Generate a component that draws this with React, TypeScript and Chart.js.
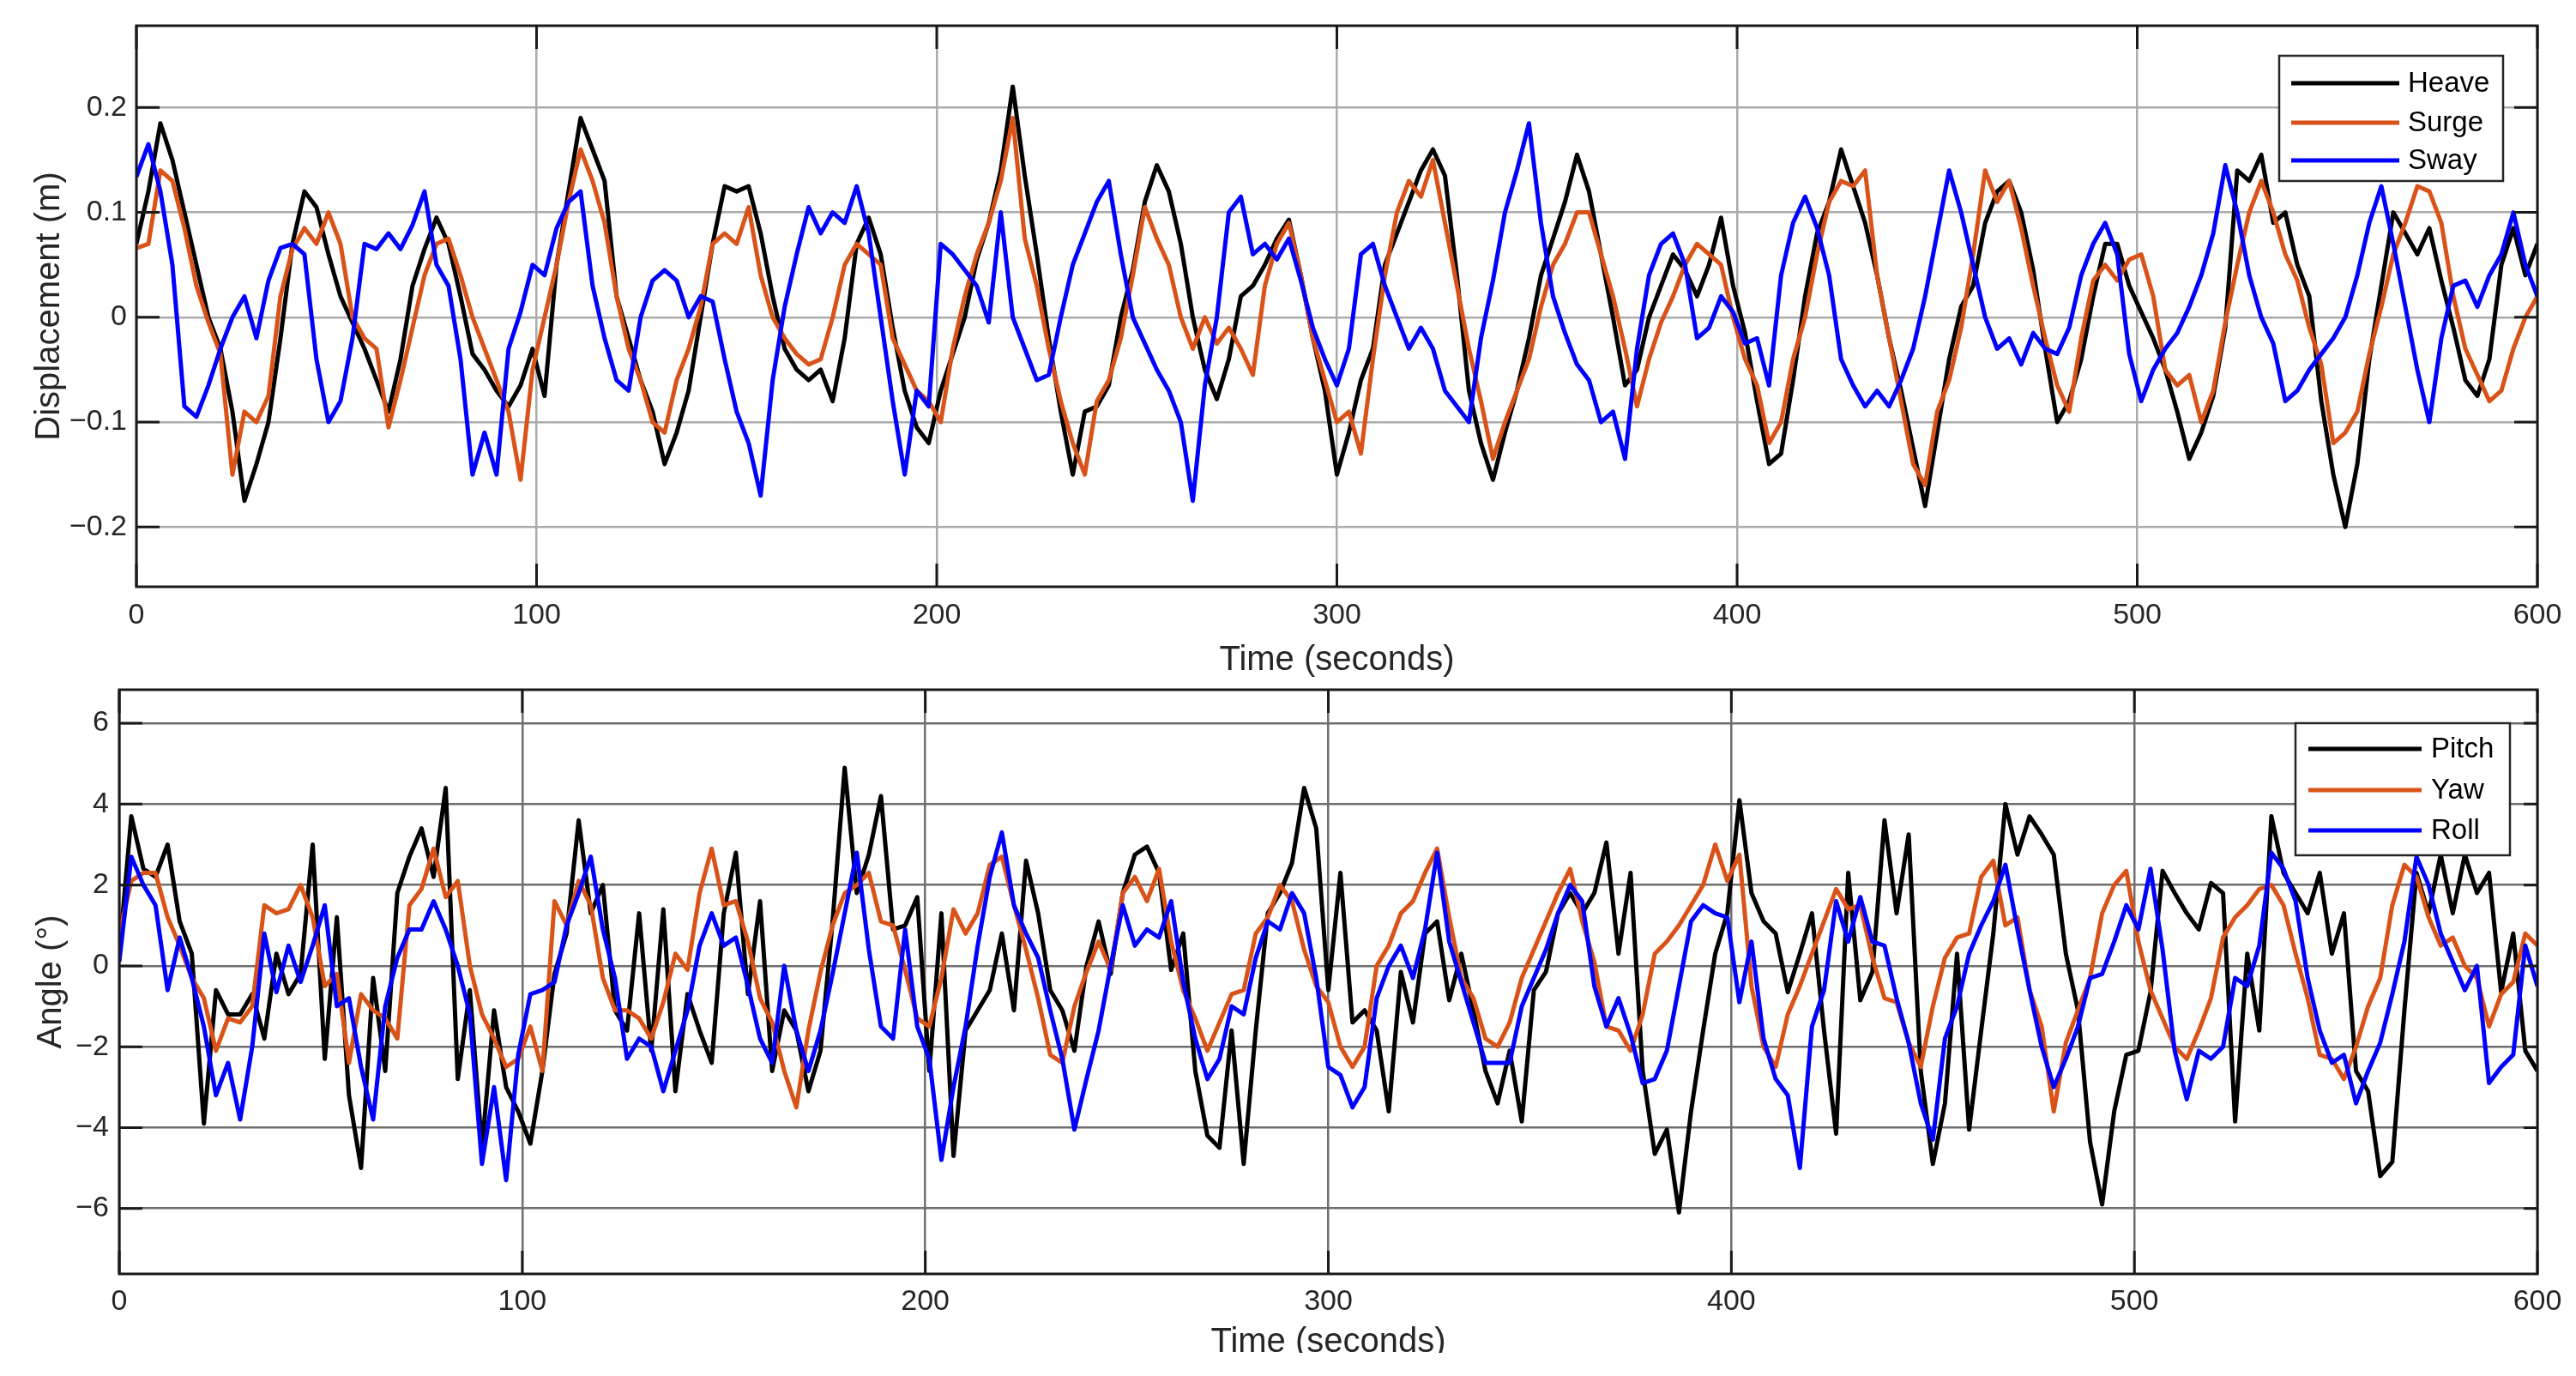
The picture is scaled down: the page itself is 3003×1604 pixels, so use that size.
import React, { useEffect, useRef } from "react";
import { Chart, registerables, ChartConfiguration, Plugin } from "chart.js";

Chart.register(...registerables);

// one reading every 3 s
const TIME_S = [
  0, 3, 6, 9, 12, 15, 18, 21, 24, 27,
  30, 33, 36, 39, 42, 45, 48, 51, 54, 57,
  60, 63, 66, 69, 72, 75, 78, 81, 84, 87,
  90, 93, 96, 99, 102, 105, 108, 111, 114, 117,
  120, 123, 126, 129, 132, 135, 138, 141, 144, 147,
  150, 153, 156, 159, 162, 165, 168, 171, 174, 177,
  180, 183, 186, 189, 192, 195, 198, 201, 204, 207,
  210, 213, 216, 219, 222, 225, 228, 231, 234, 237,
  240, 243, 246, 249, 252, 255, 258, 261, 264, 267,
  270, 273, 276, 279, 282, 285, 288, 291, 294, 297,
  300, 303, 306, 309, 312, 315, 318, 321, 324, 327,
  330, 333, 336, 339, 342, 345, 348, 351, 354, 357,
  360, 363, 366, 369, 372, 375, 378, 381, 384, 387,
  390, 393, 396, 399, 402, 405, 408, 411, 414, 417,
  420, 423, 426, 429, 432, 435, 438, 441, 444, 447,
  450, 453, 456, 459, 462, 465, 468, 471, 474, 477,
  480, 483, 486, 489, 492, 495, 498, 501, 504, 507,
  510, 513, 516, 519, 522, 525, 528, 531, 534, 537,
  540, 543, 546, 549, 552, 555, 558, 561, 564, 567,
  570, 573, 576, 579, 582, 585, 588, 591, 594, 597,
  600,
];

// displacement (m)
const HEAVE = [
  0.07, 0.12, 0.185, 0.15, 0.1, 0.05, 0.0, -0.03, -0.09, -0.175,
  -0.14, -0.1, -0.02, 0.07, 0.12, 0.105, 0.06, 0.02, -0.005, -0.03,
  -0.06, -0.09, -0.04, 0.03, 0.065, 0.095, 0.07, 0.02, -0.035, -0.05,
  -0.07, -0.085, -0.065, -0.03, -0.075, 0.05, 0.12, 0.19, 0.16, 0.13,
  0.02, -0.02, -0.06, -0.09, -0.14, -0.11, -0.07, 0.0, 0.07, 0.125,
  0.12, 0.125, 0.08, 0.02, -0.03, -0.05, -0.06, -0.05, -0.08, -0.02,
  0.07, 0.095, 0.06, -0.01, -0.07, -0.105, -0.12, -0.07, -0.035, 0.0,
  0.055, 0.09, 0.14, 0.22, 0.135, 0.06, -0.02, -0.09, -0.15, -0.09,
  -0.085, -0.065, 0.0, 0.045, 0.11, 0.145, 0.12, 0.07, 0.0, -0.05,
  -0.078, -0.04, 0.02, 0.03, 0.05, 0.075, 0.093, 0.04, -0.02, -0.07,
  -0.15, -0.11, -0.06, -0.03, 0.05, 0.08, 0.11, 0.14, 0.16, 0.135,
  0.04, -0.07, -0.12, -0.155, -0.11, -0.07, -0.02, 0.04, 0.075, 0.11,
  0.155, 0.12, 0.06, 0.0, -0.065, -0.05, 0.0, 0.03, 0.06, 0.045,
  0.02, 0.05, 0.095, 0.03, -0.015, -0.08, -0.14, -0.13, -0.06, 0.02,
  0.08, 0.11, 0.16, 0.125, 0.09, 0.04, -0.02, -0.07, -0.125, -0.18,
  -0.11, -0.04, 0.01, 0.03, 0.09, 0.12, 0.13, 0.1, 0.045, -0.03,
  -0.1, -0.08, -0.04, 0.02, 0.07, 0.07, 0.03, 0.005, -0.02, -0.05,
  -0.09, -0.135, -0.11, -0.075, -0.01, 0.14, 0.13, 0.155, 0.09, 0.1,
  0.05, 0.02, -0.08, -0.15, -0.2, -0.14, -0.04, 0.03, 0.1, 0.08,
  0.06, 0.085, 0.035, -0.01, -0.06, -0.075, -0.04, 0.05, 0.085, 0.04,
  0.07,
];

const SURGE = [
  0.066, 0.07, 0.14, 0.13, 0.085, 0.03, -0.005, -0.035, -0.15, -0.09,
  -0.1, -0.075, 0.02, 0.065, 0.085, 0.07, 0.1, 0.07, 0.0, -0.02,
  -0.03, -0.105, -0.06, -0.01, 0.04, 0.07, 0.075, 0.04, 0.0, -0.03,
  -0.06, -0.09, -0.155, -0.05, 0.0, 0.05, 0.11, 0.16, 0.13, 0.09,
  0.02, -0.03, -0.06, -0.1, -0.11, -0.06, -0.03, 0.01, 0.07, 0.08,
  0.07, 0.105, 0.04, 0.0, -0.02, -0.035, -0.045, -0.04, 0.0, 0.05,
  0.07, 0.06, 0.05, -0.02, -0.045, -0.07, -0.08, -0.1, -0.03, 0.02,
  0.06, 0.09, 0.13, 0.19, 0.075, 0.03, -0.03, -0.08, -0.12, -0.15,
  -0.08, -0.06, -0.02, 0.04, 0.105, 0.075, 0.05, 0.0, -0.03, 0.0,
  -0.025, -0.01, -0.03, -0.055, 0.03, 0.07, 0.09, 0.04, -0.02, -0.06,
  -0.1, -0.09, -0.13, -0.04, 0.04, 0.1, 0.13, 0.115, 0.15, 0.09,
  0.03, -0.03, -0.08, -0.135, -0.1, -0.07, -0.04, 0.01, 0.05, 0.07,
  0.1, 0.1, 0.06, 0.02, -0.03, -0.085, -0.04, -0.005, 0.02, 0.05,
  0.07, 0.06, 0.05, 0.0, -0.04, -0.065, -0.12, -0.1, -0.04, 0.0,
  0.06, 0.11, 0.13, 0.125, 0.14, 0.04, -0.02, -0.08, -0.14, -0.16,
  -0.09, -0.06, -0.01, 0.06, 0.14, 0.11, 0.13, 0.085, 0.03, -0.02,
  -0.065, -0.09, -0.02, 0.035, 0.05, 0.035, 0.055, 0.06, 0.02, -0.05,
  -0.065, -0.055, -0.1, -0.07, -0.005, 0.05, 0.1, 0.13, 0.1, 0.06,
  0.035, -0.01, -0.045, -0.12, -0.11, -0.09, -0.035, 0.01, 0.06, 0.09,
  0.125, 0.12, 0.09, 0.02, -0.03, -0.055, -0.08, -0.07, -0.03, 0.0,
  0.02,
];

const SWAY = [
  0.134, 0.165, 0.12, 0.05, -0.085, -0.095, -0.065, -0.03, 0.0, 0.02,
  -0.02, 0.035, 0.066, 0.07, 0.06, -0.04, -0.1, -0.08, -0.02, 0.07,
  0.065, 0.08, 0.065, 0.088, 0.12, 0.05, 0.03, -0.04, -0.15, -0.11,
  -0.15, -0.03, 0.005, 0.05, 0.04, 0.085, 0.11, 0.12, 0.03, -0.02,
  -0.06, -0.07, 0.0, 0.035, 0.045, 0.035, 0.0, 0.02, 0.015, -0.04,
  -0.09, -0.12, -0.17, -0.06, 0.01, 0.06, 0.105, 0.08, 0.1, 0.09,
  0.125, 0.08, 0.0, -0.08, -0.15, -0.07, -0.085, 0.07, 0.06, 0.045,
  0.03, -0.005, 0.1, 0.0, -0.03, -0.06, -0.055, 0.0, 0.05, 0.08,
  0.11, 0.13, 0.06, 0.0, -0.025, -0.05, -0.07, -0.1, -0.175, -0.065,
  0.0, 0.1, 0.115, 0.06, 0.07, 0.055, 0.075, 0.035, -0.01, -0.04,
  -0.065, -0.03, 0.06, 0.07, 0.03, 0.0, -0.03, -0.01, -0.03, -0.07,
  -0.085, -0.1, -0.02, 0.035, 0.1, 0.14, 0.185, 0.09, 0.02, -0.015,
  -0.045, -0.06, -0.1, -0.09, -0.135, -0.03, 0.04, 0.07, 0.08, 0.05,
  -0.02, -0.01, 0.02, 0.005, -0.025, -0.02, -0.065, 0.04, 0.09, 0.115,
  0.085, 0.04, -0.04, -0.065, -0.085, -0.07, -0.085, -0.06, -0.03, 0.02,
  0.08, 0.14, 0.1, 0.05, 0.0, -0.03, -0.02, -0.045, -0.015, -0.03,
  -0.035, -0.01, 0.04, 0.07, 0.09, 0.06, -0.035, -0.08, -0.05, -0.03,
  -0.015, 0.01, 0.04, 0.08, 0.145, 0.1, 0.04, 0.0, -0.025, -0.08,
  -0.07, -0.05, -0.035, -0.02, 0.0, 0.04, 0.09, 0.125, 0.07, 0.01,
  -0.05, -0.1, -0.02, 0.03, 0.035, 0.01, 0.04, 0.06, 0.1, 0.05,
  0.02,
];

// angle (degrees)
const PITCH = [
  0.3, 3.7, 2.4, 2.2, 3.0, 1.1, 0.3, -3.9, -0.6, -1.2,
  -1.2, -0.7, -1.8, 0.3, -0.7, -0.2, 3.0, -2.3, 1.2, -3.2,
  -5.0, -0.3, -2.6, 1.8, 2.7, 3.4, 2.2, 4.4, -2.8, -0.6,
  -4.5, -1.1, -3.0, -3.6, -4.4, -2.6, -0.2, 0.8, 3.6, 1.3,
  2.0, -1.1, -1.6, 1.3, -2.1, 1.4, -3.1, -0.7, -1.6, -2.4,
  1.3, 2.8, -0.7, 1.6, -2.6, -1.1, -1.6, -3.1, -2.1, 1.1,
  4.9, 1.8, 2.75, 4.2, 0.9, 1.0, 1.7, -2.6, 1.3, -4.7,
  -1.6, -1.1, -0.6, 0.8, -1.1, 2.6, 1.3, -0.6, -1.1, -2.1,
  0.0, 1.1, -0.2, 1.8, 2.75, 2.95, 2.3, -0.1, 0.8, -2.6,
  -4.2, -4.5, -1.6, -4.9, -1.6, 1.3, 1.8, 2.55, 4.4, 3.4,
  -0.6, 2.3, -1.4, -1.1, -1.6, -3.6, -0.15, -1.4, 0.8, 1.1,
  -0.85, 0.3, -1.1, -2.6, -3.4, -2.1, -3.85, -0.6, -0.15, 1.3,
  1.8, 1.3, 1.8, 3.05, 0.3, 2.3, -2.6, -4.65, -4.05, -6.1,
  -3.6, -1.6, 0.3, 1.3, 4.1, 1.8, 1.1, 0.8, -0.65, 0.3,
  1.3, -1.6, -4.15, 2.3, -0.85, -0.15, 3.6, 1.3, 3.25, -2.6,
  -4.9, -3.4, 0.3, -4.05, -1.6, 0.8, 4.0, 2.75, 3.7, 3.25,
  2.75, 0.3, -1.1, -4.35, -5.9, -3.6, -2.2, -2.1, -0.65, 2.35,
  1.8, 1.3, 0.9, 2.05, 1.8, -3.85, 0.3, -1.6, 3.7, 2.3,
  1.8, 1.3, 2.3, 0.3, 1.3, -2.6, -3.1, -5.2, -4.85, -1.1,
  2.3, 1.3, 2.75, 1.3, 2.75, 1.8, 2.3, -0.65, 0.8, -2.1,
  -2.6,
];

const YAW = [
  0.8, 2.1, 2.3, 2.3, 1.2, 0.5, -0.3, -0.8, -2.1, -1.3,
  -1.4, -1.0, 1.5, 1.3, 1.4, 2.0, 1.2, -0.5, -0.2, -2.4,
  -0.7, -1.1, -1.3, -1.8, 1.5, 1.9, 2.9, 1.7, 2.1, 0.0,
  -1.2, -1.8, -2.5, -2.3, -1.5, -2.6, 1.6, 1.0, 2.1, 1.5,
  -0.3, -1.1, -1.1, -1.3, -1.8, -0.9, 0.3, -0.1, 1.8, 2.9,
  1.5, 1.6, 0.6, -0.8, -1.4, -2.6, -3.5, -1.6, -0.15, 1.0,
  1.8, 2.0, 2.3, 1.1, 1.0, -0.1, -1.3, -1.5, -0.3, 1.4,
  0.8, 1.3, 2.5, 2.7, 1.5, 0.4, -0.8, -2.2, -2.4, -1.0,
  -0.15, 0.6, -0.1, 1.8, 2.2, 1.6, 2.4, 0.6, -0.6, -1.3,
  -2.1, -1.4, -0.7, -0.6, 0.8, 1.2, 2.0, 1.6, 0.4, -0.5,
  -0.9, -2.0, -2.5, -2.0, 0.0, 0.5, 1.3, 1.6, 2.3, 2.9,
  1.2, -0.3, -0.8, -1.8, -2.0, -1.4, -0.3, 0.4, 1.1, 1.8,
  2.4, 1.1, 0.1, -1.5, -1.6, -2.1, -1.2, 0.3, 0.6, 1.0,
  1.5, 2.0, 3.0, 2.1, 2.75, -0.5, -2.0, -2.5, -1.2, -0.5,
  0.3, 1.1, 1.9, 1.4, 1.5, 0.2, -0.8, -0.9, -1.9, -2.5,
  -1.0, 0.2, 0.7, 0.8, 2.2, 2.6, 1.0, 1.2, -0.6, -1.5,
  -3.6, -1.9, -1.1, -0.3, 1.3, 2.0, 2.35, 0.6, -0.6, -1.3,
  -2.0, -2.3, -1.6, -0.8, 0.7, 1.2, 1.5, 1.9, 2.0, 1.5,
  0.3, -0.8, -2.2, -2.3, -2.8, -2.0, -1.0, -0.3, 1.5, 2.5,
  2.2, 1.2, 0.5, 0.7, 0.0, -0.3, -1.5, -0.7, -0.4, 0.8,
  0.5,
];

const ROLL = [
  0.1, 2.7, 2.0, 1.5, -0.6, 0.7, -0.3, -1.5, -3.2, -2.4,
  -3.8, -2.0, 0.8, -0.65, 0.5, -0.4, 0.5, 1.5, -1.0, -0.8,
  -2.5, -3.8, -1.0, 0.2, 0.9, 0.9, 1.6, 0.9, 0.0, -1.2,
  -4.9, -3.0, -5.3, -2.2, -0.7, -0.6, -0.4, 1.0, 1.8, 2.7,
  0.9, -0.3, -2.3, -1.8, -2.0, -3.1, -2.1, -1.1, 0.5, 1.3,
  0.5, 0.7, -0.5, -1.8, -2.4, 0.0, -1.6, -2.6, -1.6, -0.2,
  1.3, 2.8, 0.4, -1.5, -1.8, 0.9, -1.5, -2.3, -4.8, -3.0,
  -1.5, 0.5, 2.2, 3.3, 1.5, 0.8, 0.2, -1.1, -2.3, -4.05,
  -2.8, -1.6, 0.0, 1.5, 0.5, 0.9, 0.7, 1.6, -0.4, -1.8,
  -2.8, -2.3, -1.0, -1.2, 0.2, 1.1, 0.9, 1.8, 1.3, -0.3,
  -2.5, -2.7, -3.5, -3.0, -0.8, 0.0, 0.5, -0.3, 0.9, 2.8,
  0.6, -0.4, -1.4, -2.4, -2.4, -2.4, -1.0, -0.3, 0.4, 1.3,
  2.0, 1.6, -0.5, -1.5, -0.8, -1.7, -2.9, -2.8, -2.1, -0.5,
  1.1, 1.5, 1.3, 1.2, -0.9, 0.6, -1.8, -2.8, -3.2, -5.0,
  -1.5, -0.6, 1.6, 0.6, 1.7, 0.6, 0.5, -0.8, -1.9, -3.4,
  -4.3, -1.8, -1.0, 0.3, 1.0, 1.6, 2.5, 0.9, -0.6, -2.0,
  -3.0, -2.3, -1.5, -0.3, -0.2, 0.6, 1.5, 0.9, 2.4, 0.4,
  -2.1, -3.3, -2.1, -2.3, -2.0, -0.3, -0.5, 0.5, 2.8, 2.4,
  1.6, -0.3, -1.6, -2.4, -2.2, -3.4, -2.6, -1.9, -0.7, 0.6,
  2.7, 2.0, 0.8, 0.1, -0.6, 0.0, -2.9, -2.5, -2.2, 0.5,
  -0.5,
];

const TRANSLATION_LABELS = ["Heave", "Surge", "Sway"];
const ROTATION_LABELS = ["Pitch", "Yaw", "Roll"];
const LINE_COLORS = ["#000000", "#d95319", "#0000ff"];

const FONT = "Arial, 'Liberation Sans', Helvetica, sans-serif";
const TEXT = "#262626";

interface LegendSpec {
  right: number; // gap between box and right edge of plot
  top: number; // gap between plot top and box
  width: number;
  height: number;
  lineStart: number;
  lineEnd: number;
  textX: number;
  rows: number[];
}

interface PanelSpec {
  labels: string[];
  series: number[][];
  yMin: number;
  yMax: number;
  yStep: number;
  yDigits: number;
  yTitle: string;
  yAxisWidth: number;
  yTickPad: number;
  yTitlePad: number;
  xAxisHeight: number;
  xTickPad: number;
  xTitlePad: number;
  padTop: number;
  padRight: number;
  gridColor: string;
  tickLen: number;
  tickLenRight: number;
  legend: LegendSpec;
}

function fmtTick(v: number, digits: number) {
  const r = Number(v.toFixed(digits));
  if (r === 0) return "0";
  return r < 0 ? "\u2212" + String(Math.abs(r)) : String(r);
}

// box, inward ticks and legend drawn like the matlab figure
function makeBoxPlugin(spec: PanelSpec): Plugin<"line"> {
  return {
    id: "matlabBox",
    afterDatasetsDraw(chart) {
      const { ctx, chartArea: a, scales } = chart;
      const xs = scales.x;
      const ys = scales.y;
      ctx.save();
      ctx.strokeStyle = "#1a1a1a";
      ctx.lineWidth = 3;
      ctx.beginPath();
      xs.ticks.forEach((t) => {
        const px = xs.getPixelForValue(t.value);
        ctx.moveTo(px, a.bottom);
        ctx.lineTo(px, a.bottom - spec.tickLen);
        ctx.moveTo(px, a.top);
        ctx.lineTo(px, a.top + spec.tickLen);
      });
      ys.ticks.forEach((t) => {
        const py = ys.getPixelForValue(t.value);
        ctx.moveTo(a.left, py);
        ctx.lineTo(a.left + spec.tickLen, py);
        ctx.moveTo(a.right, py);
        ctx.lineTo(a.right - spec.tickLenRight, py);
      });
      ctx.stroke();
      ctx.strokeRect(a.left, a.top, a.right - a.left, a.bottom - a.top);

      const lg = spec.legend;
      const bx = a.right - lg.right - lg.width;
      const by = a.top + lg.top;
      ctx.fillStyle = "#ffffff";
      ctx.fillRect(bx, by, lg.width, lg.height);
      ctx.lineWidth = 2.5;
      ctx.strokeStyle = "#262626";
      ctx.strokeRect(bx, by, lg.width, lg.height);
      ctx.font = `33px ${FONT}`;
      ctx.textAlign = "left";
      ctx.textBaseline = "middle";
      chart.data.datasets.forEach((ds, i) => {
        const ry = by + lg.rows[i];
        ctx.strokeStyle = ds.borderColor as string;
        ctx.lineWidth = 5;
        ctx.beginPath();
        ctx.moveTo(bx + lg.lineStart, ry);
        ctx.lineTo(bx + lg.lineEnd, ry);
        ctx.stroke();
        ctx.fillStyle = "#000000";
        ctx.fillText(ds.label as string, bx + lg.textX, ry + 1);
      });
      ctx.restore();
    },
  };
}

function buildConfig(spec: PanelSpec): ChartConfiguration<"line"> {
  const n = TIME_S.length;
  return {
    type: "line",
    data: {
      datasets: spec.series.map((vals, i) => ({
        label: spec.labels[i],
        data: TIME_S.slice(0, Math.min(n, vals.length)).map((t, k) => ({ x: t, y: vals[k] })),
        borderColor: LINE_COLORS[i],
        backgroundColor: LINE_COLORS[i],
        borderWidth: 5,
        borderJoinStyle: "round",
        pointRadius: 0,
        tension: 0,
        fill: false,
        order: spec.series.length - 1 - i,
      })),
    },
    options: {
      animation: false,
      responsive: true,
      maintainAspectRatio: false,
      devicePixelRatio: 1,
      events: [],
      layout: { padding: { top: spec.padTop, right: spec.padRight, bottom: 0, left: 0 } },
      plugins: {
        legend: { display: false },
        tooltip: { enabled: false },
        title: { display: false },
      },
      scales: {
        x: {
          type: "linear",
          min: 0,
          max: 600,
          border: { display: false },
          grid: { color: spec.gridColor, lineWidth: 2.5, drawTicks: false },
          ticks: {
            stepSize: 100,
            includeBounds: false,
            autoSkip: false,
            maxRotation: 0,
            padding: spec.xTickPad,
            color: TEXT,
            font: { family: FONT, size: 34 },
          },
          title: {
            display: true,
            text: "Time (seconds)",
            color: TEXT,
            font: { family: FONT, size: 40 },
            padding: { top: 0, bottom: spec.xTitlePad },
          },
          afterFit: (s: any) => {
            s.height = spec.xAxisHeight;
            s.paddingLeft = 0;
            s.paddingRight = 0;
          },
        },
        y: {
          type: "linear",
          min: spec.yMin,
          max: spec.yMax,
          border: { display: false },
          grid: { color: spec.gridColor, lineWidth: 2.5, drawTicks: false },
          ticks: {
            stepSize: spec.yStep,
            includeBounds: false,
            autoSkip: false,
            padding: spec.yTickPad,
            color: TEXT,
            font: { family: FONT, size: 34 },
            callback: (v) => fmtTick(Number(v), spec.yDigits),
          },
          title: {
            display: true,
            text: spec.yTitle,
            color: TEXT,
            font: { family: FONT, size: 40 },
            padding: { top: spec.yTitlePad, bottom: 0 },
          },
          afterFit: (s: any) => {
            s.width = spec.yAxisWidth;
            s.paddingTop = 0;
            s.paddingBottom = 0;
          },
        },
      },
    },
    plugins: [makeBoxPlugin(spec)],
  };
}

const TOP_SPEC: PanelSpec = {
  labels: TRANSLATION_LABELS,
  series: [HEAVE, SURGE, SWAY],
  yMin: -0.257,
  yMax: 0.278,
  yStep: 0.1,
  yDigits: 1,
  yTitle: "Displacement (m)",
  yAxisWidth: 159,
  yTickPad: 11,
  yTitlePad: 34,
  xAxisHeight: 116,
  xTickPad: 13,
  xTitlePad: 6,
  padTop: 30,
  padRight: 45,
  gridColor: "#ababab",
  tickLen: 27,
  tickLenRight: 27,
  legend: { right: 40, top: 35, width: 261, height: 146, lineStart: 14, lineEnd: 140, textX: 150, rows: [32, 78, 122] },
};

const BOTTOM_SPEC: PanelSpec = {
  labels: ROTATION_LABELS,
  series: [PITCH, YAW, ROLL],
  yMin: -7.62,
  yMax: 6.83,
  yStep: 2,
  yDigits: 0,
  yTitle: "Angle (°)",
  yAxisWidth: 139,
  yTickPad: 12,
  yTitlePad: 36,
  xAxisHeight: 119,
  xTickPad: 12,
  xTitlePad: 15,
  padTop: 4,
  padRight: 45,
  gridColor: "#6e6e6e",
  tickLen: 27,
  tickLenRight: 16,
  legend: { right: 32, top: 39, width: 250, height: 154, lineStart: 15, lineEnd: 147, textX: 158, rows: [30, 78, 125] },
};

function PanelChart({ spec, height }: { spec: PanelSpec; height: number }) {
  const canvasRef = useRef<HTMLCanvasElement | null>(null);

  useEffect(() => {
    if (!canvasRef.current) return;
    const chart = new Chart(canvasRef.current, buildConfig(spec));
    return () => {
      chart.destroy();
    };
  }, [spec]);

  return (
    <div style={{ position: "relative", width: 3003, height }}>
      <canvas ref={canvasRef} />
    </div>
  );
}

export default function App() {
  return (
    <div
      style={{
        position: "absolute",
        left: 0,
        top: 0,
        width: 3003,
        height: 1604,
        background: "#ffffff",
        overflow: "hidden",
      }}
    >
      <div style={{ position: "absolute", left: 0, top: 0, width: 3003, height: 800 }}>
        <PanelChart spec={TOP_SPEC} height={800} />
      </div>
      {/* lower panel is cut off just under its axis title, as in the source figure */}
      <div style={{ position: "absolute", left: 0, top: 800, width: 3003, height: 777, overflow: "hidden" }}>
        <PanelChart spec={BOTTOM_SPEC} height={804} />
      </div>
    </div>
  );
}
